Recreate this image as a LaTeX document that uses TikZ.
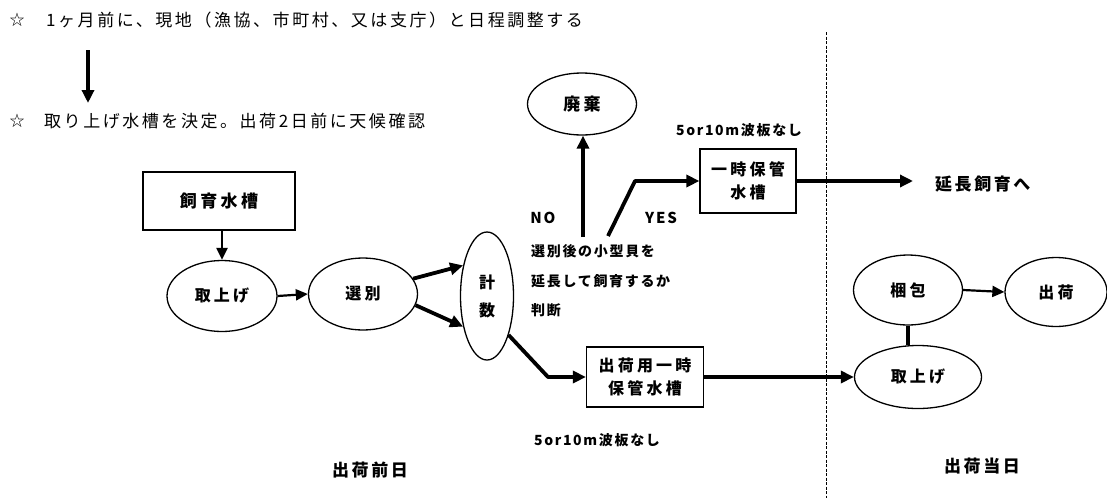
\documentclass[tikz,border=0pt]{standalone}
\usepackage{fontspec}
\newfontfamily\jpT[LetterSpace=15]{Noto Sans CJK JP}
\newfontfamily\jpN[LetterSpace=20]{Noto Sans CJK JP}
\newfontfamily\jpS[LetterSpace=12]{Noto Sans CJK JP}
\usetikzlibrary{shapes.geometric,arrows.meta}
\begin{document}
\begin{tikzpicture}[x=1pt,y=-1pt,
  every node/.style={inner sep=0pt},
  oval/.style={draw,ellipse,line width=1.3pt,align=center,font=\jpN\bfseries\fontsize{16}{28}\selectfont},
  tank/.style={draw,rectangle,line width=1.2pt,align=center,font=\jpN\bfseries\fontsize{16}{23}\selectfont},
  title/.style={font=\jpT\fontsize{17}{19}\selectfont,anchor=west},
  note/.style={font=\jpS\bfseries\fontsize{14}{16}\selectfont},
  day/.style={font=\jpT\bfseries\fontsize{17}{20}\selectfont},
  thinarrow/.style={line width=2.2pt,-{Triangle[length=12pt,width=11pt]}},
  thickarrow/.style={line width=3.8pt,-{Triangle[length=13pt,width=12pt]}},
  thickline/.style={line width=3.8pt},
  divider/.style={line width=0.8pt,dash pattern=on 3pt off 1.5pt}]
\useasboundingbox (0,0) rectangle (1107,498);

% title lines
\node[font=\jpT\fontsize{15}{18}\selectfont] (star1) at (17,20) {☆};
\node[title] (t1) at (46,20) {1ヶ月前に、現地（漁協、市町村、又は支庁）と日程調整する};
\node[font=\jpT\fontsize{15}{18}\selectfont] (star2) at (17,121) {☆};
\node[title] (t2) at (44,121) {取り上げ水槽を決定。出荷2日前に天候確認};
\coordinate (a1) at (88,50);
\coordinate (a2) at (88,103);
\draw[thickarrow] (a1) -- (a2);

% day divider
\coordinate (d1) at (826,32);
\coordinate (d2) at (826,498);
\draw[divider] (d1) -- (d2);

% nodes, day before
\node[tank,minimum width=152pt,minimum height=58pt,font=\jpN\bfseries\fontsize{17}{23}\selectfont] (tank1) at (219,201) {飼育水槽};
\node[oval,minimum width=110pt,minimum height=71pt] (tori1) at (222,296) {取上げ};
\node[oval,minimum width=109pt,minimum height=72pt] (sen) at (363,294) {選別};
\node[oval,minimum width=53pt,minimum height=128pt] (kei) at (487,296) {計\\数};
\node[oval,font=\jpN\bfseries\fontsize{17}{20}\selectfont,minimum width=109pt,minimum height=62pt] (hai) at (582,104) {廃棄};
\node[tank,minimum width=96pt,minimum height=64pt] (ichi) at (748,181) {一時保管\\水槽};
\node[tank,minimum width=117pt,minimum height=60pt] (shbox) at (645,377) {出荷用一時\\保管水槽};

% nodes, shipping day
\node[oval,minimum width=109pt,minimum height=70pt] (kon) at (908,290) {梱包};
\node[oval,minimum width=102pt,minimum height=69pt] (shu) at (1056,292) {出荷};
\node[oval,minimum width=127pt,minimum height=63pt] (tori2) at (918,377) {取上げ};

% labels
\node[note,font=\jpS\bfseries\fontsize{15}{18}\selectfont] (no) at (543,218) {NO};
\node[note,font=\jpS\bfseries\fontsize{15}{18}\selectfont] (yes) at (661,218) {YES};
\node[note,anchor=west] (q1) at (531,251) {選別後の小型貝を};
\node[note,anchor=west] (q2) at (531,281) {延長して飼育するか};
\node[note,anchor=west] (q3) at (531,310) {判断};
\node[note] (w1) at (739,130) {5or10m波板なし};
\node[note] (w2) at (597,440) {5or10m波板なし};
\node[font=\jpT\bfseries\fontsize{17}{20}\selectfont,anchor=west] (ext) at (935,184) {延長飼育へ};
\node[day] (day1) at (370,470) {出荷前日};
\node[day] (day2) at (982,466) {出荷当日};

% connectors
\draw[thinarrow] (tank1.south -| tori1.north) -- (tori1.north);
\draw[thinarrow] (tori1.east) -- (sen.west);
\draw[thickarrow] (sen.17) -- (kei.128);
\draw[thickarrow] (sen.-12) -- (kei.-128);
\coordinate (kb) at (548,377);
\draw[thickarrow,line join=round] (kei.-61) -- (kb) -- (shbox.west);
\draw[thickarrow] (shbox.east) -- (tori2.west);
\coordinate (noS) at (583,237);
\draw[thickarrow] (noS) -- (noS |- hai.south);
\coordinate (yS) at (608,236);
\coordinate (yB) at (635,181);
\draw[thickarrow,line join=round] (yS) -- (yB) -- (ichi.west);
\coordinate (extE) at (913,181);
\draw[thickarrow] (ichi.east) -- (extE);
\draw[thinarrow] (kon.east) -- (shu.west);
\draw[thickline] (kon.south) -- (kon.south |- tori2.north);
\end{tikzpicture}
\end{document}
